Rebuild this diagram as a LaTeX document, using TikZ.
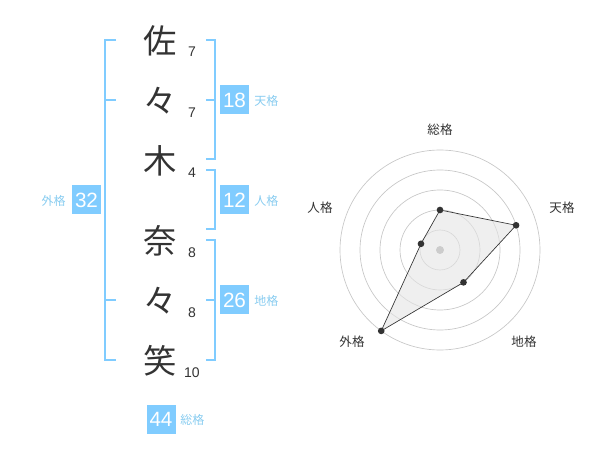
\documentclass[tikz,border=0pt]{standalone}
\usepackage{fontspec}
\setmainfont{Liberation Sans}
\newfontfamily\jp{Noto Sans CJK JP}
\definecolor{kakuBlue}{HTML}{80CCFF}
\definecolor{kakuText}{HTML}{88CCF0}
\definecolor{inkGray}{HTML}{333333}

\begin{document}
\begin{tikzpicture}
  [x=0.75pt,y=-0.75pt,
   kanjiN/.style={text=inkGray,font=\jp\fontsize{25}{25}\selectfont,inner sep=0pt},
   strokeN/.style={text=inkGray,font=\fontsize{10.5}{10.5}\selectfont,inner sep=0pt},
   kakuN/.style={fill=kakuBlue,text=white,font=\fontsize{15.5}{15.5}\selectfont,minimum size=21.75pt,inner sep=0pt},
   kakuL/.style={text=kakuText,font=\jp\fontsize{9}{9}\selectfont,inner sep=0pt,anchor=west},
   brk/.style={draw=kakuBlue,line width=1.5pt},
   ring/.style={draw=black!22,line width=0.5pt},
   dotN/.style={circle,fill=inkGray,minimum size=5pt,inner sep=0pt},
   axisL/.style={text=inkGray,font=\jp\fontsize{9.4}{9.4}\selectfont,inner sep=0pt}]

  \useasboundingbox (0,0) rectangle (600,470);

  % name and strokes
  \node[kanjiN] (k1) at (160,41)  {佐};
  \node[kanjiN] (k2) at (160,101) {々};
  \node[kanjiN] (k3) at (160,161) {木};
  \node[kanjiN] (k4) at (160,241) {奈};
  \node[kanjiN] (k5) at (160,301) {々};
  \node[kanjiN] (k6) at (160,361) {笑};

  \node[strokeN] (s1) at (192,52)  {7};
  \node[strokeN] (s2) at (192,113) {7};
  \node[strokeN] (s3) at (192,173) {4};
  \node[strokeN] (s4) at (192,253) {8};
  \node[strokeN] (s5) at (192,313) {8};
  \node[strokeN] (s6) at (192,373) {10};

  % brackets
  \coordinate (gai_t) at (105,40);  \coordinate (gai_b) at (105,360);
  \coordinate (ten_t) at (215,40);  \coordinate (ten_b) at (215,159);
  \coordinate (jin_t) at (215,170); \coordinate (jin_b) at (215,229);
  \coordinate (chi_t) at (215,240); \coordinate (chi_b) at (215,360);

  \draw [brk] (116,40) -- (gai_t) -- (gai_b) -- (116,360);
  \draw [brk] (105,100) -- (116,100); \draw [brk] (105,300) -- (116,300);

  \draw [brk] (206,40) -- (ten_t) -- (ten_b) -- (206,159);
  \draw [brk] (206,100) -- (215,100);
  \draw [brk] (206,170) -- (jin_t) -- (jin_b) -- (206,229);
  \draw [brk] (206,240) -- (chi_t) -- (chi_b) -- (206,360);
  \draw [brk] (206,300) -- (215,300);

  \node[kakuN] (ten) at (234.5,100) {18};
  \node[kakuN] (jin) at (234.5,200) {12};
  \node[kakuN] (chi) at (234.5,300) {26};
  \node[kakuN] (gai) at (86.5,200)  {32};
  \node[kakuN] (sou) at (161,419)   {44};

  \node[kakuL] (tenL) at (254,101) {天格};
  \node[kakuL] (jinL) at (254,201) {人格};
  \node[kakuL] (chiL) at (254,301) {地格};
  \node[kakuL,anchor=center] (gaiL) at (53.5,201) {外格};
  \node[kakuL] (souL) at (180,420) {総格};

  % radar
  \begin{scope}[shift={(440,250)},y=0.75pt]
    \coordinate (c) at (0,0);
    \foreach \r in {20,40,...,100}
      \draw [ring] (c) circle[radius=\r];

    \coordinate (r_sou) at (90:40);
    \coordinate (r_ten) at (18:80);
    \coordinate (r_chi) at (-54:40);
    \coordinate (r_gai) at (-126:100);
    \coordinate (r_jin) at (162:20);

    \filldraw [fill=black!10,fill opacity=0.6,draw=inkGray,line width=0.5pt]
      (r_sou) -- (r_ten) -- (r_chi) -- (r_gai) -- (r_jin) -- cycle;

    \node[circle,fill=black!20,minimum size=6pt,inner sep=0pt] (mid) at (c) {};
    \foreach \p in {r_sou,r_ten,r_chi,r_gai,r_jin}
      \node[dotN] at (\p) {};

    \node[axisL] (a_sou) at (0,120)    {総格};
    \node[axisL] (a_ten) at (122,42)   {天格};
    \node[axisL] (a_chi) at (84,-92)   {地格};
    \node[axisL] (a_gai) at (-88,-92)  {外格};
    \node[axisL] (a_jin) at (-120,42)  {人格};
  \end{scope}
\end{tikzpicture}
\end{document}
